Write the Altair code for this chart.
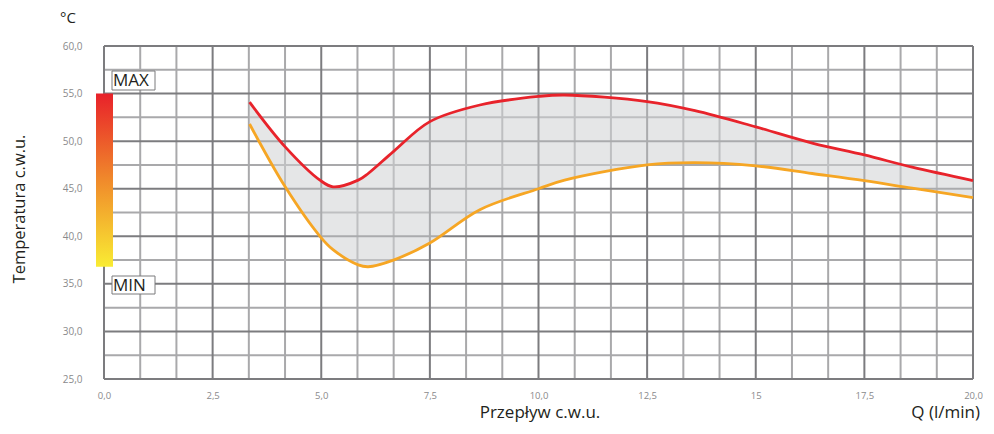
import json
import altair as alt
import pandas as pd

# ---- data ----
flow = [3.35, 4.17, 4.97, 5.27, 5.85, 6.08, 6.66, 7.5, 8.65, 10.0, 10.6, 12.5, 13.6, 15.0, 16.3, 17.5, 18.6, 20.0]
temp_max = [54.1, 49.4, 45.9, 45.2, 45.9, 46.6, 48.9, 52.05, 53.8, 54.7, 54.85, 54.15, 53.2, 51.5, 49.8, 48.55, 47.26, 45.85]
temp_min = [51.8, 45.2, 40.0, 38.6, 37.0, 36.8, 37.5, 39.3, 42.8, 45.0, 45.9, 47.5, 47.74, 47.4, 46.6, 45.85, 45.05, 44.07]

x_ticks = [0, 2.5, 5, 7.5, 10, 12.5, 15, 17.5, 20]
x_tick_labels = ["0,0", "2,5", "5,0", "7,5", "10,0", "12,5", "15", "17,5", "20,0"]
y_ticks = [25, 30, 35, 40, 45, 50, 55, 60]
y_tick_labels = ["25,0", "30,0", "35,0", "40,0", "45,0", "50,0", "55,0", "60,0"]

x_minor_grid = [i * 2.5 / 3 for i in range(25) if i % 3 != 0]
y_minor_grid = [27.5, 32.5, 37.5, 42.5, 47.5, 52.5, 57.5]

bar_top = [55.0]
bar_bottom = [36.8]

y_title = ["Temperatura c.w.u."]
x_title = ["Przepływ c.w.u."]
unit_x = ["Q (l/min)"]
unit_y = ["°C"]
max_label = ["MAX"]
min_label = ["MIN"]

# ---- chart ----
FONT = "Open Sans"
CURVE = "catmull-rom"
XS = alt.Scale(domain=[0, 20], nice=False, zero=False)
YS = alt.Scale(domain=[25, 60], nice=False, zero=False)

def lookup_expr(vals, labels):
    return f"{json.dumps(labels)}[indexof({json.dumps(vals)}, datum.value)]"

XA = alt.Axis(values=x_ticks, labelExpr=lookup_expr(x_ticks, x_tick_labels), grid=False, domain=False,
              ticks=False, labelPadding=11, labelFontSize=9.5, labelColor="#8a8a8c", labelFont=FONT,
              labelFlush=False, title=None)
YA = alt.Axis(values=y_ticks, labelExpr=lookup_expr(y_ticks, y_tick_labels), grid=False, domain=False,
              ticks=False, labelPadding=22, labelFontSize=10, labelColor="#8a8a8c", labelFont=FONT,
              labelFlush=False, title=None)

def X(f):
    return alt.X(f, scale=XS, axis=XA)

def Y(f):
    return alt.Y(f, scale=YS, axis=YA)

curves = pd.DataFrame({"flow": flow, "tmax": temp_max, "tmin": temp_min})

gx_major = alt.Chart(pd.DataFrame({"v": x_ticks})).mark_rule(color="#7c7c7f", strokeWidth=2).encode(x=X("v:Q"))
gy_major = alt.Chart(pd.DataFrame({"v": y_ticks})).mark_rule(color="#7c7c7f", strokeWidth=2).encode(y=Y("v:Q"))
gx_minor = alt.Chart(pd.DataFrame({"v": x_minor_grid})).mark_rule(color="#a9a9ab", strokeWidth=2).encode(x=X("v:Q"))
gy_minor = alt.Chart(pd.DataFrame({"v": y_minor_grid})).mark_rule(color="#a9a9ab", strokeWidth=2).encode(y=Y("v:Q"))

band = alt.Chart(curves).mark_area(interpolate=CURVE, color="#cfd1d4", opacity=0.55).encode(
    x=X("flow:Q"), y=Y("tmin:Q"), y2="tmax:Q")
line_max = alt.Chart(curves).mark_line(interpolate=CURVE, color="#e8232b", strokeWidth=2.8).encode(
    x=X("flow:Q"), y=Y("tmax:Q"))
line_min = alt.Chart(curves).mark_line(interpolate=CURVE, color="#f6a624", strokeWidth=2.8).encode(
    x=X("flow:Q"), y=Y("tmin:Q"))

grad = alt.Gradient(
    gradient="linear", x1=0, y1=0, x2=0, y2=1,
    stops=[alt.GradientStop(color="#e8212a", offset=0),
           alt.GradientStop(color="#f08a2b", offset=0.5),
           alt.GradientStop(color="#f9ec33", offset=1)])
gbar = alt.Chart(pd.DataFrame({"top": bar_top, "bottom": bar_bottom})).mark_rect(fill=grad).encode(
    x=alt.value(-8), x2=alt.value(9),
    y=Y("top:Q"), y2="bottom:Q")

one = pd.DataFrame({"a": [0]})
box_max = alt.Chart(one).mark_rect(fill="white", stroke="#7a7a7c", strokeWidth=1).encode(
    x=alt.value(8), x2=alt.value(51), y=alt.value(25), y2=alt.value(44))
box_min = alt.Chart(one).mark_rect(fill="white", stroke="#7a7a7c", strokeWidth=1).encode(
    x=alt.value(8), x2=alt.value(51), y=alt.value(230), y2=alt.value(248))

def label(text, x, y, size, align="left", angle=0, color="#231f20"):
    return alt.Chart(pd.DataFrame({"t": text})).mark_text(
        font=FONT, fontSize=size, align=align, baseline="middle", angle=angle, color=color).encode(
        text="t:N", x=alt.value(x), y=alt.value(y))

t_max = label(max_label, 9, 35, 17)
t_min = label(min_label, 9, 239.5, 17)
t_unit_y = label(unit_y, -44, -28, 15)
t_y_title = label(y_title, -84, 163, 16.5, align="center", angle=270)
t_x_title = label(x_title, 436, 367, 17, align="center")
t_unit_x = label(unit_x, 876, 367, 17, align="right")

chart = alt.layer(
    gx_minor, gy_minor, gx_major, gy_major,
    band, line_max, line_min,
    gbar, box_max, box_min, t_max, t_min,
    t_unit_y, t_y_title, t_x_title, t_unit_x,
).properties(
    width=869, height=333,
    autosize=alt.AutoSizeParams(type="none"),
    padding={"left": 96, "top": 38, "right": 10, "bottom": 50},
).configure_view(stroke=None)

chart.save("out.html", embed_options={"renderer": "svg", "actions": False})
